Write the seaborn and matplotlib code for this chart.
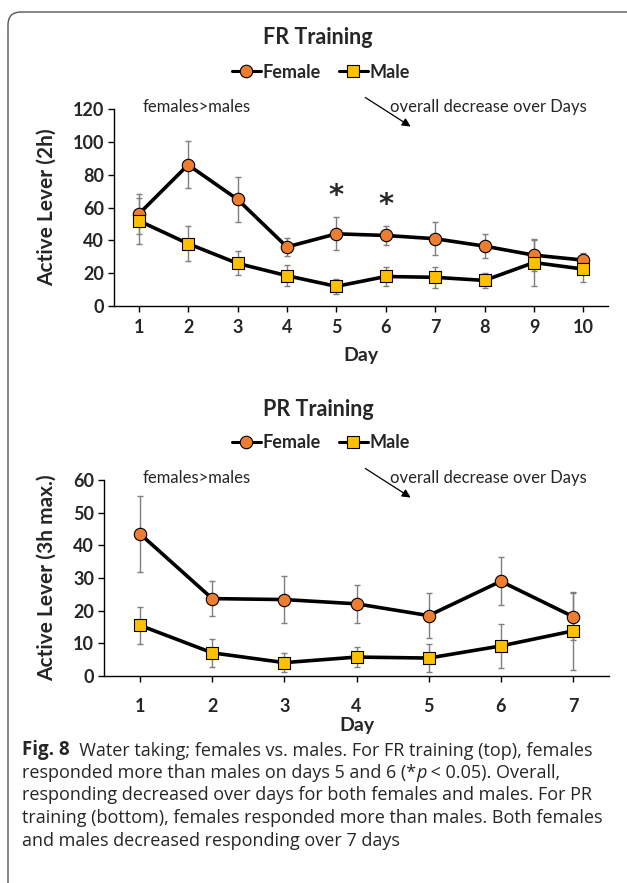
import numpy as np
import pandas as pd
import matplotlib
matplotlib.use("Agg")
import matplotlib.pyplot as plt
import seaborn as sns
from matplotlib.lines import Line2D
from matplotlib.patches import FancyBboxPatch, FancyArrowPatch

# FR training (10 days)
fr_days = [1, 2, 3, 4, 5, 6, 7, 8, 9, 10]
fr_female = [56, 86, 65, 36, 44, 43, 41, 36.5, 31, 28]
fr_female_err = [12, 14.3, 13.7, 5.4, 10, 5.7, 10, 7.5, 9.5, 4.5]
fr_male = [52, 38, 26, 18.5, 12, 18, 17.5, 15.6, 26.5, 22.5]
fr_male_err = [14, 10.7, 7.3, 6.5, 4.6, 5.6, 6.5, 4.6, 14.5, 7.7]

# PR training (7 days)
pr_days = [1, 2, 3, 4, 5, 6, 7]
pr_female = [43.5, 23.7, 23.4, 22.1, 18.5, 29, 18.2]
pr_female_err = [11.6, 5.4, 7.2, 5.8, 7, 7.4, 7.1]
pr_male = [15.5, 7.1, 4.1, 5.8, 5.5, 9.2, 13.8]
pr_male_err = [5.7, 4.3, 2.9, 3.1, 4.3, 6.8, 12]

sig_days = [5, 6]
sig_heights = [67, 61.5]

caption = [
    "responding decreased over days for both females and males. For PR",
    "training (bottom), females responded more than males. Both females",
    "and males decreased responding over 7 days",
]

sns.set_theme(style="white")
plt.rcParams['font.family'] = ['Lato', 'DejaVu Sans']

fem_col = "#ED7D31"
male_col = "#FFC000"

fig = plt.figure(figsize=(6.27, 8.83), dpi=100)

# rounded frame
frame = FancyBboxPatch((0.08, -0.2), 6.5, 8.91, boxstyle="round,pad=0,rounding_size=0.13",
                       transform=fig.dpi_scale_trans, fc="none", ec="#555555", lw=1.0,
                       zorder=-10)
fig.patches.append(frame)

ax1 = fig.add_axes([0.1818, 0.6534, 0.788, 0.2231])
ax2 = fig.add_axes([0.1659, 0.2344, 0.8054, 0.2220])


def draw_panel(ax, days, fem, fem_err, male, male_err, yticks, xpad, xlabpad):
    df = pd.DataFrame({
        "Day": days + days,
        "val": fem + male,
        "err": fem_err + male_err,
        "Sex": ["Female"] * len(days) + ["Male"] * len(days),
    })
    for sex in ["Female", "Male"]:
        d = df[df.Sex == sex]
        ax.errorbar(d.Day, d.val, yerr=d.err, fmt="none", ecolor="#7f7f7f",
                    elinewidth=1.0, capsize=2.5, capthick=1.0, zorder=2)
    sns.lineplot(data=df, x="Day", y="val", hue="Sex", palette=["black", "black"],
                 lw=2.6, legend=False, ax=ax, zorder=3)
    sns.scatterplot(data=df[df.Sex == "Female"], x="Day", y="val", color=fem_col,
                    marker="o", s=80, edgecolor="black", linewidth=0.8, ax=ax, zorder=4)
    sns.scatterplot(data=df[df.Sex == "Male"], x="Day", y="val", color=male_col,
                    marker="s", s=70, edgecolor="black", linewidth=0.8, ax=ax, zorder=5)
    ax.set_xlim(0.5, len(days) + 0.5)
    ax.set_ylim(yticks[0], yticks[-1])
    ax.set_xticks(days, labels=[str(d) for d in days], fontweight="bold", fontsize=13)
    ax.set_yticks(yticks, labels=[str(v) for v in yticks], fontweight="bold", fontsize=13)
    ax.patch.set_alpha(0)
    sns.despine(ax=ax)
    for s in ["left", "bottom"]:
        ax.spines[s].set_color("black")
        ax.spines[s].set_linewidth(1.0)
    ax.tick_params(axis="both", which="both", direction="out", length=4, width=1,
                   color="black", bottom=True, left=True, pad=3)
    ax.tick_params(axis="x", pad=xpad)
    ax.set_xlabel("Day", fontsize=14, fontweight="bold", labelpad=xlabpad)


draw_panel(ax1, fr_days, fr_female, fr_female_err, fr_male, fr_male_err,
           list(range(0, 121, 20)), 5, 8)
ax1.set_ylabel("Active Lever (2h)", fontsize=15, fontweight="bold")
ax1.yaxis.set_label_coords(-0.115, 0.5)
for d, h in zip(sig_days, sig_heights):
    ax1.text(d, h, "*", ha="center", va="center", fontsize=21, fontweight="bold",
             family=["DejaVu Sans"])

draw_panel(ax2, pr_days, pr_female, pr_female_err, pr_male, pr_male_err,
           list(range(0, 61, 10)), 12, 1)
ax2.set_ylabel("Active Lever (3h max.)", fontsize=15, fontweight="bold")
ax2.yaxis.set_label_coords(-0.093, 0.5)

# titles, legends, annotations (pixel positions converted to figure fraction)
W, H = 627.0, 883.0


def fx(x):
    return x / W


def fy(y):
    return 1 - y / H


handles = [
    Line2D([], [], color="black", lw=2.2, marker="o", markersize=9,
           markerfacecolor=fem_col, markeredgecolor="black", markeredgewidth=0.8),
    Line2D([], [], color="black", lw=2.2, marker="s", markersize=8.5,
           markerfacecolor=male_col, markeredgecolor="black", markeredgewidth=0.8),
]

for title, ty, ly, ay in [("FR Training", 38, 72, 107), ("PR Training", 410, 443, 478)]:
    fig.text(fx(318), fy(ty), title, ha="center", va="center", fontsize=15.5, fontweight="bold")
    fig.legend(handles, ["Female", "Male"], loc="center", bbox_to_anchor=(fx(321), fy(ly)),
               ncol=2, frameon=False, handlelength=1.6, handletextpad=0.1,
               columnspacing=1.0, prop={"weight": "bold", "size": 13})
    fig.text(fx(143), fy(ay), "females>males", ha="left", va="center", fontsize=12)
    fig.text(fx(390), fy(ay), "overall decrease over Days", ha="left", va="center", fontsize=12)
    fig.add_artist(FancyArrowPatch(
        (fx(363), fy(ay - 11)), (fx(413), fy(ay + 21)), transform=fig.transFigure,
        arrowstyle="-|>,head_length=5,head_width=2.5", color="black", lw=0.9))

# caption
cap_font = ['Open Sans', 'DejaVu Sans']
cap_size = 13
t1 = fig.text(fx(22), fy(755), "Fig. 8", fontsize=cap_size + 0.5, fontweight="bold",
              family=cap_font, va="baseline")
fig.add_artist(plt.Annotation("  Water taking; females vs. males. For FR training (top), females",
                              xy=(1, 0), xycoords=t1, va="bottom", fontsize=cap_size,
                              family=cap_font))
t2 = fig.text(fx(22), fy(778), "responded more than males on days 5 and 6 (*",
              fontsize=cap_size, family=cap_font, va="baseline")
t3 = plt.Annotation("p", xy=(1, 0), xycoords=t2, va="bottom",
                    fontsize=cap_size, family=cap_font, style="italic")
fig.add_artist(t3)
fig.add_artist(plt.Annotation(" < 0.05). Overall,", xy=(1, 0), xycoords=t3, va="bottom",
                              fontsize=cap_size, family=cap_font))
for i, line in enumerate(caption):
    fig.text(fx(22), fy(800.5 + 22.5 * i), line, fontsize=cap_size, family=cap_font, va="baseline")

fig.savefig("out.png", dpi=100)
